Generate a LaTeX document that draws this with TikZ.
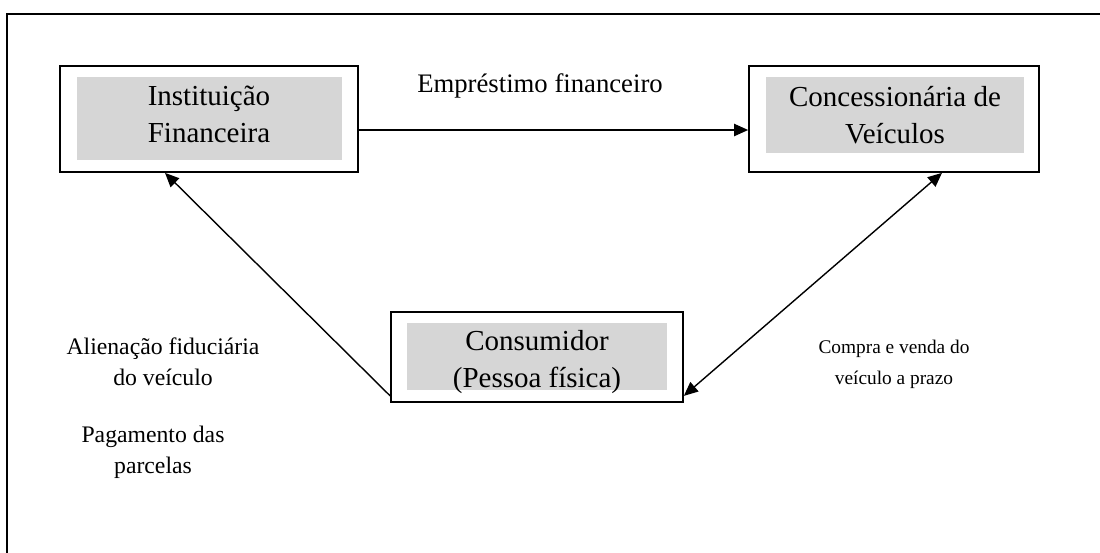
\documentclass[tikz,border=0pt]{standalone}
\usepackage{fontspec}
\setmainfont{Liberation Serif}
\usetikzlibrary{arrows.meta}

\newcommand{\boxfont}{\fontsize{16.5}{21}\selectfont}
\newcommand{\lblfont}{\fontsize{13.5}{17.6}\selectfont}
\newcommand{\smallfont}{\fontsize{11}{17.6}\selectfont}

\begin{document}
\begin{tikzpicture}[
    x=0.02cm, y=-0.02cm,
    outer/.style={draw, line width=1pt, inner sep=0pt},
    shade/.style={fill=black!16, inner sep=0pt},
    txt/.style={align=center, font=\boxfont, inner sep=0pt},
    lbl/.style={align=center, font=\lblfont},
    arrow/.style={-{Triangle[length=8pt, width=7pt]}, line width=0.8pt},
    twoway/.style={{Triangle[length=8pt, width=7pt]}-{Triangle[length=8pt, width=7pt]}, line width=0.8pt}
]
    \useasboundingbox (0,0) rectangle (1100,552);
    \begin{scope}
        \clip (0,0) rectangle (1100,552);
        \draw[line width=1.6pt] (7,14) rectangle (1130,590);
    \end{scope}

    % Boxes
    \node[outer, minimum width=5.96cm, minimum height=2.12cm] (banco) at (209,119) {};
    \node[shade, minimum width=5.3cm, minimum height=1.66cm] (bancoin) at (209.5,118.5) {};
    \node[txt] (bancotxt) at (209,114) {Instituição\\Financeira};

    \node[outer, minimum width=5.8cm, minimum height=2.12cm] (loja) at (894,119) {};
    \node[shade, minimum width=5.16cm, minimum height=1.52cm] (lojain) at (895,115) {};
    \node[txt] (lojatxt) at (895,115) {Concessionária de\\Veículos};

    \node[outer, minimum width=5.84cm, minimum height=1.8cm] (cliente) at (537,357) {};
    \node[shade, minimum width=5.2cm, minimum height=1.34cm] (clientein) at (537,356.5) {};
    \node[txt] (clientetxt) at (537,362) {Consumidor\\(Pessoa física)};

    % Labels
    \node[lbl, font=\fontsize{15.2}{18}\selectfont] (emprest) at (540,86) {Empréstimo financeiro};
    \node[lbl] (alien) at (163,362) {Alienação fiduciária\\do veículo};
    \node[lbl] (pagto) at (153,452) {Pagamento das\\parcelas};
    \node[lbl, font=\smallfont] (compra) at (894,364) {Compra e venda do\\veículo a prazo};

    % Arrows
    \draw[arrow] ([yshift=-0.22cm]banco.east) -- ([yshift=-0.22cm]loja.west);
    \draw[arrow] ([yshift=0.14cm]cliente.south west) -- ([xshift=-0.88cm]banco.south);
    \draw[twoway] ([xshift=0.96cm]loja.south) -- ([yshift=0.14cm]cliente.south east);
\end{tikzpicture}
\end{document}
